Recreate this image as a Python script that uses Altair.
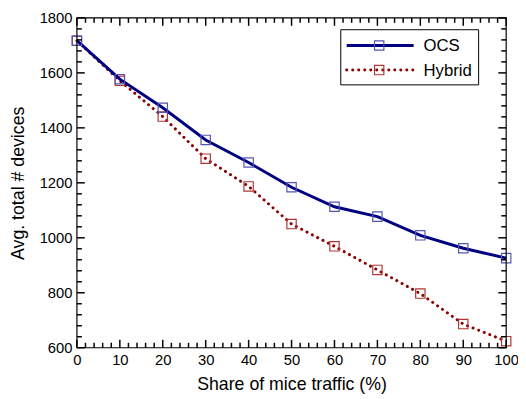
import altair as alt
import pandas as pd

# ---- data ----
share = [0, 10, 20, 30, 40, 50, 60, 70, 80, 90, 100]
ocs = [1717, 1577, 1473, 1356, 1274, 1184, 1113, 1077, 1009, 962, 926]
hybrid = [1717, 1571, 1441, 1288, 1187, 1050, 969, 883, 797, 686, 624]

x_major = [0, 10, 20, 30, 40, 50, 60, 70, 80, 90, 100]
x_minor = [2, 4, 6, 8, 12, 14, 16, 18, 22, 24, 26, 28, 32, 34, 36, 38, 42, 44, 46, 48,
           52, 54, 56, 58, 62, 64, 66, 68, 72, 74, 76, 78, 82, 84, 86, 88, 92, 94, 96, 98]
y_major = [600, 800, 1000, 1200, 1400, 1600, 1800]
y_minor = [640, 680, 720, 760, 840, 880, 920, 960, 1040, 1080, 1120, 1160,
           1240, 1280, 1320, 1360, 1440, 1480, 1520, 1560, 1640, 1680, 1720, 1760]

W, H = 436, 335
FONT = "Liberation Sans"

df_ocs = pd.DataFrame({"share": share, "devices": ocs})
df_hyb = pd.DataFrame({"share": share, "devices": hybrid})

xs = alt.Scale(domain=[0, 100], nice=False, zero=False)
ys = alt.Scale(domain=[600, 1800], nice=False, zero=False)

OCS_LINE = "#000080"
OCS_MARK = "#5555b0"
HYB_LINE = "#8b0000"
HYB_MARK = "#b03535"

x_axis = alt.Axis(
    orient="bottom", values=x_major, ticks=False, domain=False, grid=False, format="d",
    labelPadding=5, labelFontSize=15, labelFont=FONT, labelColor="black",
    labelOverlap=False, labelFlush=False,
    title="Share of mice traffic (%)", titleFont=FONT, titleFontSize=18,
    titleFontWeight="normal", titleColor="black", titlePadding=8)
y_axis = alt.Axis(
    orient="left", values=y_major, ticks=False, domain=False, grid=False, format="d",
    labelPadding=5, labelFontSize=15, labelFont=FONT, labelColor="black",
    labelOverlap=False, labelFlush=False,
    title="Avg. total # devices", titleFont=FONT, titleFontSize=18,
    titleFontWeight="normal", titleColor="black", titlePadding=12)

X = alt.X("share:Q", scale=xs, axis=x_axis)
Y = alt.Y("devices:Q", scale=ys, axis=y_axis)


def series(df, line_color, mark_color, dotted):
    if dotted:
        line = alt.Chart(df).mark_line(color=line_color, strokeWidth=3,
                                       strokeDash=[0.1, 6], strokeCap="round").encode(x=X, y=Y)
    else:
        line = alt.Chart(df).mark_line(color=line_color, strokeWidth=3).encode(x=X, y=Y)
    pts = alt.Chart(df).mark_square(size=90, filled=False, color=mark_color,
                                    strokeWidth=1.2, opacity=1).encode(x=X, y=Y)
    return line, pts


l1, p1 = series(df_ocs, OCS_LINE, OCS_MARK, False)
l2, p2 = series(df_hyb, HYB_LINE, HYB_MARK, True)


# inward ticks drawn as rules positioned through the scales
def xticks(vals, length):
    d = pd.DataFrame({"share": vals})
    bottom = alt.Chart(d).mark_rule(color="#000000", strokeWidth=1.5, opacity=1).encode(
        x=alt.X("share:Q", scale=xs), y=alt.value(H), y2=alt.value(H - length))
    top = alt.Chart(d).mark_rule(color="#000000", strokeWidth=1.5, opacity=1).encode(
        x=alt.X("share:Q", scale=xs), y=alt.value(0), y2=alt.value(length))
    return [bottom, top]


def yticks(vals, length):
    d = pd.DataFrame({"devices": vals})
    left = alt.Chart(d).mark_rule(color="#000000", strokeWidth=1.5, opacity=1).encode(
        y=alt.Y("devices:Q", scale=ys), x=alt.value(0), x2=alt.value(length))
    right = alt.Chart(d).mark_rule(color="#000000", strokeWidth=1.5, opacity=1).encode(
        y=alt.Y("devices:Q", scale=ys), x=alt.value(W), x2=alt.value(W - length))
    return [left, right]


tick_layers = xticks(x_minor, 5) + xticks(x_major, 8) + yticks(y_minor, 5) + yticks(y_major, 8)

# plot frame
frame_df = pd.DataFrame({"label": ["frame"]})
frame = alt.Chart(frame_df).mark_rect(filled=False, stroke="black", strokeWidth=1.2).encode(
    x=alt.value(0), x2=alt.value(W), y=alt.value(0), y2=alt.value(H))

# ---- legend (drawn manually) ----
leg_ocs = pd.DataFrame({"label": ["OCS"]})
leg_hyb = pd.DataFrame({"label": ["Hybrid"]})

box = alt.Chart(leg_ocs).mark_rect(fill="white", stroke="black", strokeWidth=1).encode(
    x=alt.value(268), x2=alt.value(408), y=alt.value(12), y2=alt.value(68))


def leg_entry(d, yy, line_color, mark_color, dotted):
    if dotted:
        ln = alt.Chart(d).mark_rule(color=line_color, strokeWidth=3,
                                    strokeDash=[0.1, 6], strokeCap="round")
    else:
        ln = alt.Chart(d).mark_rule(color=line_color, strokeWidth=3)
    ln = ln.encode(x=alt.value(274), x2=alt.value(342), y=alt.value(yy))
    sq = alt.Chart(d).mark_square(size=90, filled=False, color=mark_color,
                                  strokeWidth=1.2, opacity=1).encode(
        x=alt.value(307), y=alt.value(yy))
    tx = alt.Chart(d).mark_text(align="left", baseline="middle", font=FONT,
                                fontSize=17, color="black").encode(
        x=alt.value(352), y=alt.value(yy + 1), text="label:N")
    return [ln, sq, tx]


legend_layers = [box] + leg_entry(leg_ocs, 28, OCS_LINE, OCS_MARK, False) + \
    leg_entry(leg_hyb, 53, HYB_LINE, HYB_MARK, True)

chart = alt.layer(
    l2, p2, l1, p1,
    frame,
    *legend_layers,
    *tick_layers,
).properties(
    width=W, height=H,
    autosize=alt.AutoSizeParams(type="none"),
    padding={"left": 70, "top": 7, "right": 12, "bottom": 49},
).configure_view(stroke="transparent")

chart.save("out.html", embed_options={"renderer": "svg", "actions": False})
